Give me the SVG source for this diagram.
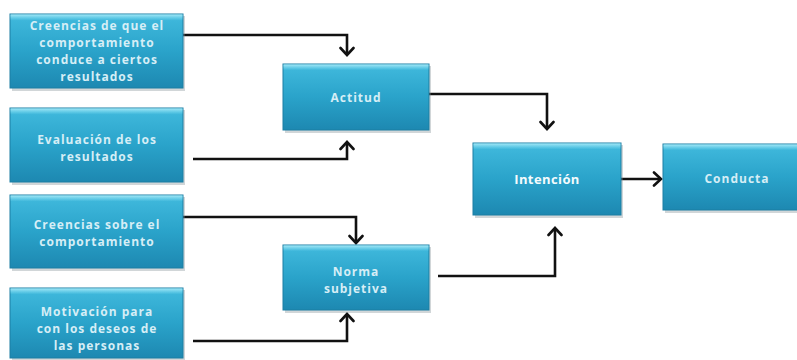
<svg xmlns="http://www.w3.org/2000/svg" width="797" height="360" viewBox="0 0 797 360">
  <style>
    .box { fill: url(#boxFill); stroke: #1c7ea3; stroke-width: 1; }
    .bevel { fill: url(#bevelFill); }
    .shade { fill: #7a8a90; opacity: 0.35; }
    .lbl { font-family: "Open Sans", "Liberation Sans", sans-serif; font-weight: 700; font-size: 12px; fill: #d6eef6; text-anchor: middle; letter-spacing: 1px; }
    .lbl-w { fill: #f4fbfd; letter-spacing: 0.4px; font-size: 13px; }
    .wire { fill: none; stroke: #111; stroke-width: 2.6; marker-end: url(#chev); }
  </style>
  <defs>
    <linearGradient id="boxFill" x1="0" y1="0" x2="0" y2="1">
      <stop offset="0" stop-color="#6fd3ec"/>
      <stop offset="0.09" stop-color="#3db6da"/>
      <stop offset="0.5" stop-color="#2aa3ca"/>
      <stop offset="1" stop-color="#1d88b1"/>
    </linearGradient>
    <linearGradient id="bevelFill" x1="0" y1="0" x2="0" y2="1">
      <stop offset="0" stop-color="#a8e8f6" stop-opacity="0.9"/>
      <stop offset="1" stop-color="#5ccbe8" stop-opacity="0"/>
    </linearGradient>
    <marker id="chev" markerUnits="userSpaceOnUse" viewBox="-9 -8 11 16" markerWidth="11" markerHeight="16" refX="0" refY="0" orient="auto">
      <path d="M-7,-6.5 L0,0 L-7,6.5" fill="none" stroke="#111" stroke-width="2.6" stroke-linecap="round" stroke-linejoin="miter"/>
    </marker>
  </defs>

  <rect width="797" height="360" fill="#ffffff"/>

  <!-- connectors -->
  <g id="connectors">
    <path class="wire" d="M183,35 H347 V55"/>
    <path class="wire" d="M193,159 H347 V142"/>
    <path class="wire" d="M183,217 H356 V243"/>
    <path class="wire" d="M193,341 H347 V314"/>
    <path class="wire" d="M429,94 H547 V129"/>
    <path class="wire" d="M438,276 H555 V228"/>
    <path class="wire" d="M621,179 H661"/>
  </g>

  <g id="creencias-resultados">
    <rect class="shade" x="12" y="16" width="173" height="75"/>
    <rect class="box" x="10" y="14" width="173" height="74"/>
    <rect class="bevel" x="10.5" y="14.5" width="172" height="6"/>
    <text class="lbl" x="97" y="30">Creencias de que el</text>
    <text class="lbl" x="97" y="47">comportamiento</text>
    <text class="lbl" x="97" y="64">conduce a ciertos</text>
    <text class="lbl" x="97" y="81">resultados</text>
  </g>

  <g id="evaluacion">
    <rect class="shade" x="12" y="110" width="173" height="75"/>
    <rect class="box" x="10" y="108" width="173" height="74"/>
    <rect class="bevel" x="10.5" y="108.5" width="172" height="6"/>
    <text class="lbl" x="97" y="144">Evaluación de los</text>
    <text class="lbl" x="97" y="161">resultados</text>
  </g>

  <g id="creencias-comportamiento">
    <rect class="shade" x="12" y="197" width="173" height="74"/>
    <rect class="box" x="10" y="195" width="173" height="73"/>
    <rect class="bevel" x="10.5" y="195.5" width="172" height="6"/>
    <text class="lbl" x="97" y="229">Creencias sobre el</text>
    <text class="lbl" x="97" y="246">comportamiento</text>
  </g>

  <g id="motivacion">
    <rect class="shade" x="12" y="290" width="173" height="72"/>
    <rect class="box" x="10" y="288" width="173" height="70"/>
    <rect class="bevel" x="10.5" y="288.5" width="172" height="6"/>
    <text class="lbl" x="97" y="316">Motivación para</text>
    <text class="lbl" x="97" y="333">con los deseos de</text>
    <text class="lbl" x="97" y="350">las personas</text>
  </g>

  <g id="actitud">
    <rect class="shade" x="285" y="66" width="146" height="67"/>
    <rect class="box" x="283" y="64" width="146" height="66"/>
    <rect class="bevel" x="283.5" y="64.5" width="145" height="6"/>
    <text class="lbl" x="356" y="102">Actitud</text>
  </g>

  <g id="norma-subjetiva">
    <rect class="shade" x="285" y="247" width="146" height="66"/>
    <rect class="box" x="283" y="245" width="146" height="65"/>
    <rect class="bevel" x="283.5" y="245.5" width="145" height="6"/>
    <text class="lbl" x="356" y="276">Norma</text>
    <text class="lbl" x="356" y="293">subjetiva</text>
  </g>

  <g id="intencion">
    <rect class="shade" x="475" y="145" width="148" height="73"/>
    <rect class="box" x="473" y="143" width="148" height="72"/>
    <rect class="bevel" x="473.5" y="143.5" width="147" height="6"/>
    <text class="lbl lbl-w" x="547" y="184">Intención</text>
  </g>

  <g id="conducta">
    <rect class="shade" x="665" y="146" width="140" height="67"/>
    <rect class="box" x="663" y="144" width="140" height="66"/>
    <rect class="bevel" x="663.5" y="144.5" width="139" height="6"/>
    <text class="lbl" x="737" y="183">Conducta</text>
  </g>
</svg>
